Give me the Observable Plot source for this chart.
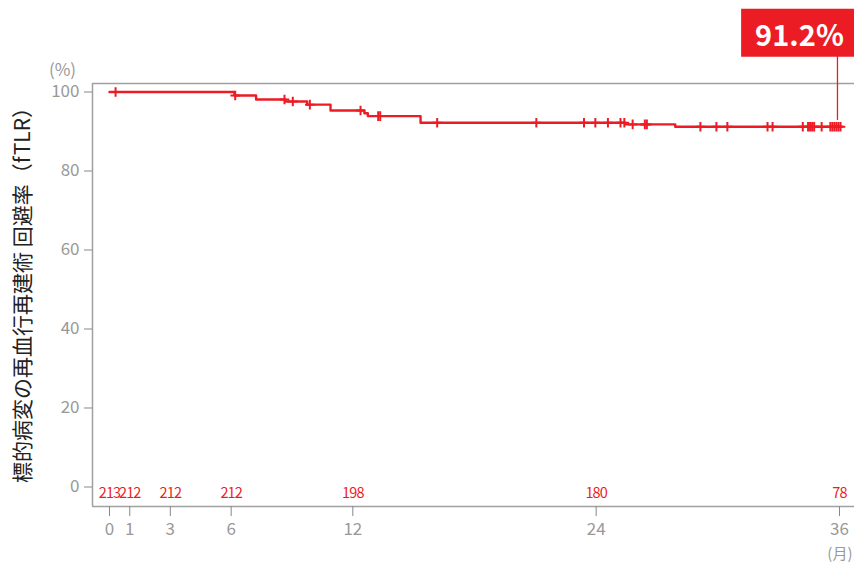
<!DOCTYPE html>
<html>
<head>
<meta charset="utf-8">
<script src="https://cdn.jsdelivr.net/npm/d3@7"></script>
<script src="https://cdn.jsdelivr.net/npm/@observablehq/plot@0.6"></script>
<style>
  html, body { margin: 0; padding: 0; background: #fff; }
  .risk text { letter-spacing: -0.9px; }
</style>
</head>
<body>
<div id="chart"></div>
<script>
// ---- data ----
const xTicks = [0, 1, 3, 6, 12, 24, 36];
const atRisk = [213, 212, 212, 212, 198, 180, 78];
const yTicks = [0, 20, 40, 60, 80, 100];

// Kaplan–Meier steps (month, survival % after the event)
const eventTimes = [6.16, 7.23, 8.68, 9.75, 10.9, 12.57, 12.74, 15.34, 25.44, 27.9];
const eventSurv  = [99.1, 98.1, 97.6, 96.8, 95.3, 94.6, 93.9, 92.2, 91.8, 91.2];
const startTime = 0, startSurv = 100, endTime = 36.1;

// censored observations (months)
const censorTimes = [0.3, 6.2, 8.63, 9.04, 9.88, 12.38, 13.25, 13.35, 16.16, 21.05, 23.4, 23.96,
  24.58, 25.2, 25.39, 25.8, 26.4, 26.5, 29.14, 29.93, 30.47, 32.45, 32.7, 34.19, 34.45, 34.55,
  34.65, 34.75, 35.12, 35.55, 35.65, 35.75, 35.85, 35.95, 36.05];

const callout = {t: 35.9, from: 92.8, to: 109.5, label: "91.2%"};
const yLabel = "標的病変の再血行再建術 回避率（fTLR）";
const yUnit = "(%)";
const xUnit = "(月)";

const xDomain = [-0.838, 36.74];
const yDomain = [-4.94, 102.15];

// ---- build tables ----
const curve = [{t: startTime, s: startSurv}]
  .concat(eventTimes.map((t, i) => ({t, s: eventSurv[i]})))
  .concat([{t: endTime, s: eventSurv[eventSurv.length - 1]}]);
function survAt(t) {
  let s = startSurv;
  eventTimes.forEach((et, i) => { if (et <= t) s = eventSurv[i]; });
  return s;
}
const censors = censorTimes.map(t => ({t, s: survAt(t)}));
const risk = xTicks.map((t, i) => ({t, n: atRisk[i]}));

const RED = "#ec1c24";
const GRAY = "#a0a0a0";
const FONT = "'Noto Sans CJK JP', 'Noto Sans', sans-serif";

const chart = Plot.plot({
  width: 854,
  height: 562,
  marginLeft: 92,
  marginRight: 0,
  marginTop: 83,
  marginBottom: 56,
  style: {fontFamily: FONT, background: "#fff", overflow: "visible"},
  x: {domain: xDomain},
  y: {domain: yDomain},
  marks: [
    Plot.ruleX([xDomain[0]], {stroke: GRAY, strokeWidth: 1.5}),
    Plot.ruleY([yDomain[0], yDomain[1]], {stroke: GRAY, strokeWidth: 1.5}),
    Plot.axisY({ticks: yTicks, tickSize: 8, tickPadding: 5, fontSize: 17,
      stroke: "#888", fill: "#999", label: null}),
    Plot.axisX({ticks: xTicks, tickSize: 10, tickPadding: 6, fontSize: 17,
      stroke: "#888", fill: "#999", label: null}),
    Plot.line(curve, {x: "t", y: "s", curve: "step-after", stroke: RED, strokeWidth: 2.4}),
    Plot.dot(censors, {x: "t", y: "s", symbol: "plus", r: 3.2, stroke: RED, strokeWidth: 2}),
    Plot.text(risk, {x: "t", text: d => String(d.n), frameAnchor: "bottom", dy: -9,
      fill: RED, fontSize: 14.5, className: "risk"}),
    Plot.ruleX([callout], {x: "t", y1: "from", y2: "to", stroke: RED, strokeWidth: 1.3}),
    Plot.text([callout], {x: "t", y: "to", text: "label", dx: -38, dy: -18, fill: "#fff",
      fontSize: 29, fontWeight: "bold"}),
    Plot.text([yLabel], {frameAnchor: "left", textAnchor: "middle", lineAnchor: "middle",
      rotate: -90, dx: -69, dy: -5, fill: "#222", fontSize: 21}),
    Plot.text([yUnit], {frameAnchor: "top-left", textAnchor: "middle", lineAnchor: "middle",
      dx: -30, dy: -13, fill: "#999", fontSize: 17}),
    Plot.text([xUnit], {frameAnchor: "bottom-right", dx: -2, dy: 48, textAnchor: "end",
      lineAnchor: "middle", fill: "#999", fontSize: 15})
  ]
});
document.getElementById("chart").appendChild(chart);

// red box behind the callout label, sized from the text itself
const lbl = [...chart.querySelectorAll("text")].find(t => t.textContent === callout.label);
if (lbl) {
  const bb = lbl.getBBox();
  const rect = document.createElementNS("http://www.w3.org/2000/svg", "rect");
  const padX = 14, padTop = 3, padBottom = 3;
  rect.setAttribute("x", bb.x - padX);
  rect.setAttribute("y", bb.y - padTop);
  rect.setAttribute("width", bb.width + 2 * padX);
  rect.setAttribute("height", bb.height + padTop + padBottom);
  rect.setAttribute("fill", RED);
  if (lbl.getAttribute("transform")) rect.setAttribute("transform", lbl.getAttribute("transform"));
  lbl.parentNode.insertBefore(rect, lbl);
}
</script>
</body>
</html>
